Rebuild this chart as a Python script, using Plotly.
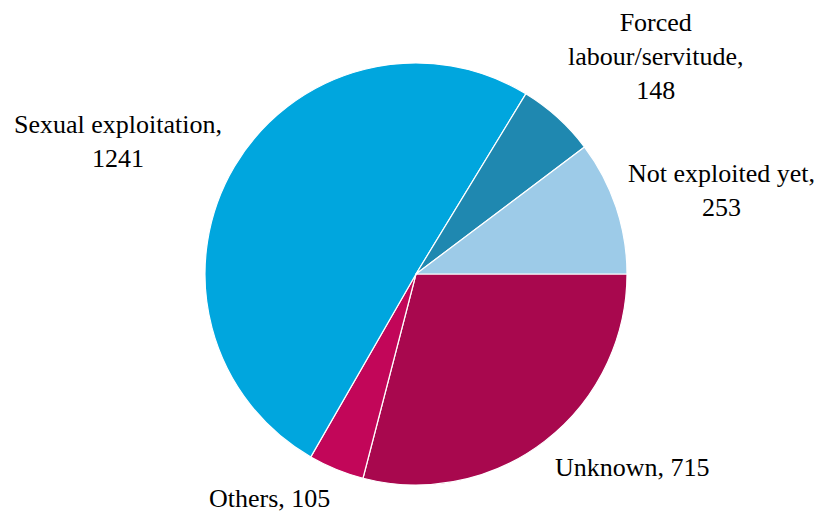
import plotly.graph_objects as go

# Trafficking victims by form of exploitation (listed clockwise from 3 o'clock)
labels = ["Unknown", "Others", "Sexual exploitation", "Forced labour/servitude", "Not exploited yet"]
values = [715, 105, 1241, 148, 253]
colors = ["#A8084E", "#C20659", "#00A6DE", "#1F88B0", "#9DCBE8"]

# label text (with line breaks as in the original) and where each one sits, in pixels
label_text = ["Unknown, 715", "Others, 105", "Sexual exploitation,<br>1241",
              "Forced<br>labour/servitude,<br>148", "Not exploited yet,<br>253"]
label_px = [(632, 467), (269, 498), (118, 141), (655, 56), (721, 190)]

W, H = 822, 513
cx, cy, r = 416, 274, 211
FONT = "Liberation Serif, Times New Roman, DejaVu Serif, serif"

fig = go.Figure(go.Pie(
    labels=labels, values=values, sort=False,
    direction="clockwise", rotation=90,
    marker=dict(colors=colors, line=dict(color="white", width=1.2)),
    textinfo="none", hoverinfo="label+value", showlegend=False,
    domain=dict(x=[(cx - r) / W, (cx + r) / W], y=[(H - cy - r) / H, (H - cy + r) / H]),
))

for txt, (px_, py_) in zip(label_text, label_px):
    fig.add_annotation(text=txt, x=px_ / W, y=1 - py_ / H, xref="paper", yref="paper",
                       xanchor="center", yanchor="middle", showarrow=False, align="center",
                       font=dict(family=FONT, size=26, color="black"))

fig.update_layout(width=W, height=H, margin=dict(l=0, r=0, t=0, b=0),
                  paper_bgcolor="white", plot_bgcolor="white",
                  font=dict(family=FONT, size=26, color="black"))
fig.write_html("out.html", config={"displayModeBar": False},
               post_script="document.body.style.margin='0px';")
